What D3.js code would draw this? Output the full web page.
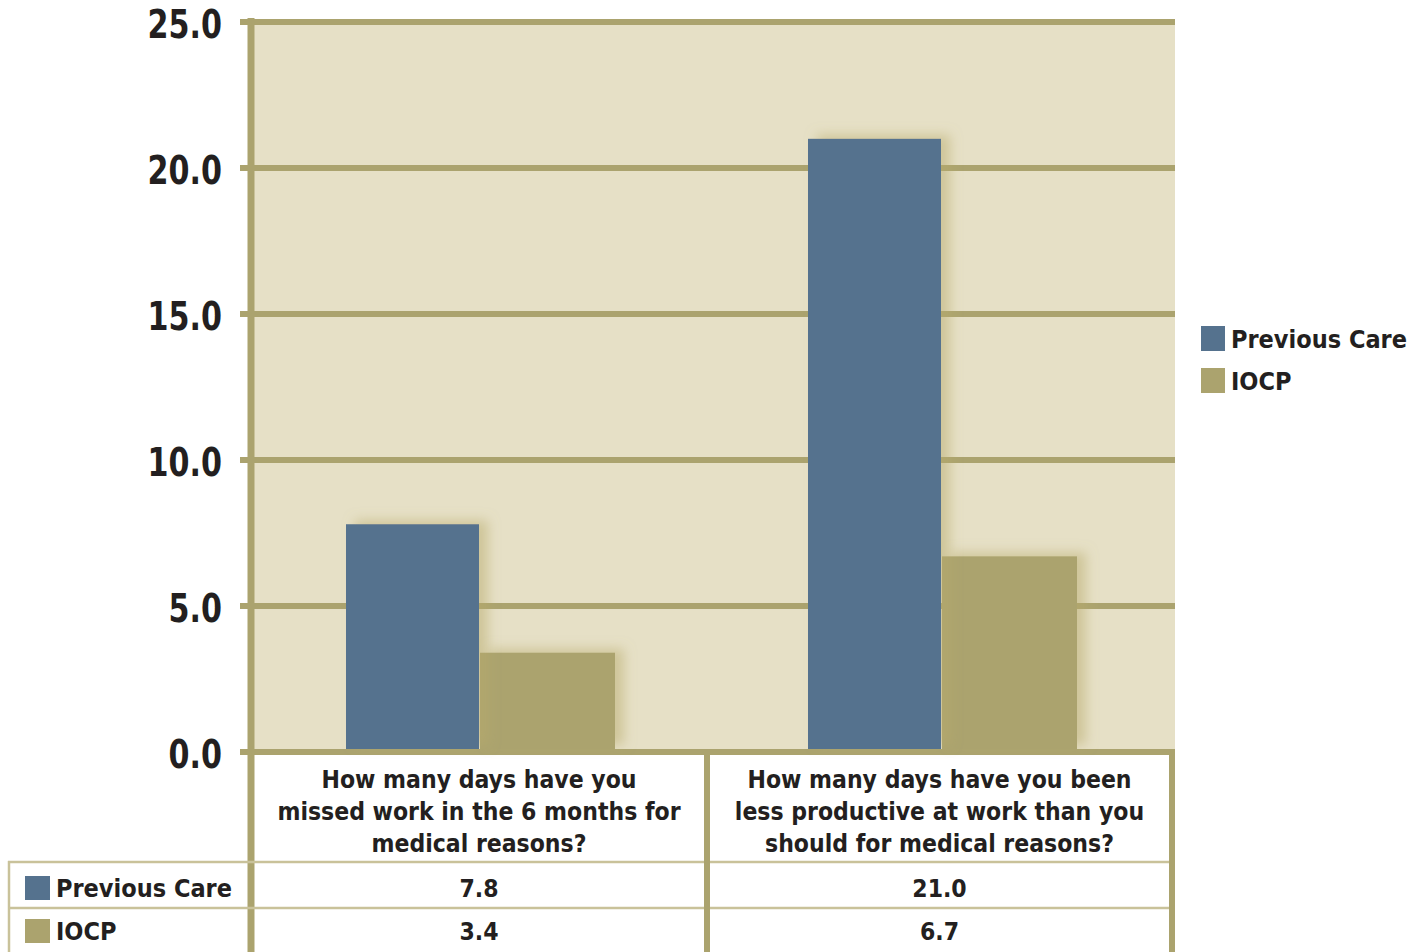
<!DOCTYPE html>
<html><head><meta charset="utf-8">
<script src="https://cdn.jsdelivr.net/npm/d3@7"></script>
<style>
body{margin:0;background:#fff;}
text{font-family:"DejaVu Sans Condensed","DejaVu Sans",sans-serif;font-weight:bold;fill:#231f20;font-stretch:condensed;}
</style></head><body>
<script>
const categories = [
  ["How many days have you","missed work in the 6 months for","medical reasons?"],
  ["How many days have you been","less productive at work than you","should for medical reasons?"]
];
const seriesNames = ["Previous Care","IOCP"];
const previousCare = [7.8, 21.0];
const iocp = [3.4, 6.7];
const yTicks = [0,5,10,15,20,25];
const colors = ["#55728e","#aba36e"];

const W=1414,H=952;
const svg=d3.select("body").append("svg").attr("width",W).attr("height",H);
const defs=svg.append("defs");
const f=defs.append("filter").attr("id","sh").attr("x","-20%").attr("y","-20%").attr("width","150%").attr("height","140%");
f.append("feDropShadow").attr("dx",9).attr("dy",-4).attr("stdDeviation",6).attr("flood-color","#b8ab6a").attr("flood-opacity",0.5);

const x0=251,x1=1175,yTop=22,yBot=752;
const y=d3.scaleLinear().domain([0,25]).range([yBot,yTop]);
const xb=d3.scaleBand().domain(d3.range(categories.length)).range([x0,x1]);
const xs=d3.scaleBand().domain([0,1]).range([0,268]);
const grid="#aba36e";

svg.append("rect").attr("x",x0).attr("y",yTop).attr("width",x1-x0).attr("height",yBot-yTop).attr("fill","#e6e0c6");

// gridlines
svg.append("g").selectAll("line").data(yTicks).join("line")
  .attr("x1",240).attr("x2",x1).attr("y1",d=>y(d)).attr("y2",d=>y(d))
  .attr("stroke",grid).attr("stroke-width",6);

// bars
const data=[previousCare,iocp];
const g=svg.append("g");
categories.forEach((c,i)=>{
  const cx=xb(i)+xb.bandwidth()/2-2;
  [1,0].forEach(s=>{
    const v=data[s][i];
    g.append("rect").attr("x",cx-134+xs(s)).attr("y",y(v)).attr("width",s===0?133:135)
     .attr("height",y(0)-y(v)-3).attr("fill",colors[s]).attr("filter","url(#sh)");
  });
});

// axis line
svg.append("line").attr("x1",x0).attr("x2",x0).attr("y1",yTop-4).attr("y2",H).attr("stroke",grid).attr("stroke-width",7);

// y labels
svg.append("g").selectAll("text").data(yTicks).join("text")
  .attr("transform",d=>`translate(222,${y(d)+16}) scale(0.86,1)`)
  .attr("text-anchor","end").attr("font-size",39)
  .text(d=>d.toFixed(1));

// table
const colX=[x0,707,1172];
const thin="#c9c29a";
svg.append("line").attr("x1",8).attr("x2",1172).attr("y1",862).attr("y2",862).attr("stroke",thin).attr("stroke-width",2.5);
svg.append("line").attr("x1",8).attr("x2",1172).attr("y1",908).attr("y2",908).attr("stroke",thin).attr("stroke-width",2.5);
svg.append("line").attr("x1",9).attr("x2",9).attr("y1",861).attr("y2",H).attr("stroke",thin).attr("stroke-width",2.5);
[707,1172].forEach(xx=>svg.append("line").attr("x1",xx).attr("x2",xx).attr("y1",752).attr("y2",H).attr("stroke",grid).attr("stroke-width",6));

categories.forEach((c,i)=>{
  const cx=(colX[i]+colX[i+1])/2;
  c.forEach((ln,j)=>{
    svg.append("text").attr("x",cx).attr("y",788+j*32).attr("text-anchor","middle").attr("font-size",24.5).text(ln);
  });
  data.forEach((d,s)=>{
    svg.append("text").attr("x",cx).attr("y",897+s*43).attr("text-anchor","middle").attr("font-size",24.5).text(d[i].toFixed(1));
  });
});
seriesNames.forEach((n,s)=>{
  svg.append("rect").attr("x",25).attr("y",876+s*43).attr("width",25).attr("height",24).attr("fill",colors[s]);
  svg.append("text").attr("x",56).attr("y",897+s*43).attr("font-size",25).text(n);
  // side legend
  svg.append("rect").attr("x",1201).attr("y",326+s*42).attr("width",24).attr("height",25).attr("fill",colors[s]);
  svg.append("text").attr("x",1231).attr("y",348+s*42).attr("font-size",25).text(n);
});
</script></body></html>
